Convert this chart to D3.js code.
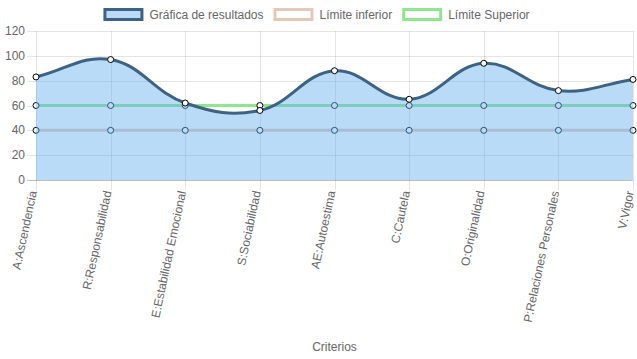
<!DOCTYPE html>
<html>
<head>
<meta charset="utf-8">
<script src="https://cdn.jsdelivr.net/npm/d3@7"></script>
<style>
html,body{margin:0;padding:0;background:#fff;}
svg{display:block;font-family:"Liberation Sans",Arial,Helvetica,sans-serif;}
</style>
</head>
<body>
<svg id="chart" width="637" height="359"></svg>
<script>
const categories = ["A:Ascendencia","R:Responsabilidad","E:Estabilidad Emocional","S:Sociabilidad","AE:Autoestima","C:Cautela","O:Originalidad","P:Relaciones Personales","V:Vigor"];
const resultados = [83, 97, 62, 56, 88, 65, 94, 72, 81];
const limiteInferior = [40, 40, 40, 40, 40, 40, 40, 40, 40];
const limiteSuperior = [60, 60, 60, 60, 60, 60, 60, 60, 60];
const yTicks = [0, 20, 40, 60, 80, 100, 120];
const seriesNames = ["Gráfica de resultados", "Límite inferior", "Límite Superior"];
const xTitle = "Criterios";

const W = 637, H = 359;
const area = {left: 36, right: 633, top: 31, bottom: 180};
const svg = d3.select("#chart");

const x = d3.scalePoint().domain(categories).range([area.left, area.right]);
const y = d3.scaleLinear().domain([0, 120]).range([area.bottom, area.top]);

const textColor = "#666";
const gridColor = "rgba(0,0,0,0.1)";

// horizontal grid
const gy = svg.append("g");
yTicks.forEach(t => {
  gy.append("line").attr("x1", area.left - 9).attr("x2", area.right)
    .attr("y1", Math.round(y(t)) + 0.5).attr("y2", Math.round(y(t)) + 0.5)
    .attr("stroke", t === 0 ? "rgba(0,0,0,0.25)" : gridColor).attr("stroke-width", 1);
  gy.append("text").attr("x", area.left - 11).attr("y", y(t))
    .attr("text-anchor", "end").attr("dominant-baseline", "central")
    .attr("font-size", 12).attr("fill", textColor).text(t);
});
// vertical grid
const gx = svg.append("g");
categories.forEach(c => {
  const px = Math.round(x(c)) + 0.5;
  gx.append("line").attr("x1", px).attr("x2", px)
    .attr("y1", area.top).attr("y2", area.bottom + 10)
    .attr("stroke", gridColor).attr("stroke-width", 1);
  gx.append("text")
    .attr("transform", `translate(${x(c) - 3},${area.bottom + 11}) rotate(-78)`)
    .attr("text-anchor", "end").attr("dominant-baseline", "central")
    .attr("font-size", 12).attr("fill", textColor).text(c);
});

// Chart.js style spline
function splinePath(vals, closeToZero) {
  const pts = vals.map((v, i) => ({x: x(categories[i]), y: y(v)}));
  const t = 0.4;
  pts.forEach((p, i) => {
    const prev = pts[i - 1] || p, next = pts[i + 1] || p;
    const d01 = Math.hypot(p.x - prev.x, p.y - prev.y);
    const d12 = Math.hypot(next.x - p.x, next.y - p.y);
    let s01 = d01 / (d01 + d12), s12 = d12 / (d01 + d12);
    if (isNaN(s01)) s01 = 0; if (isNaN(s12)) s12 = 0;
    const fa = t * s01, fb = t * s12;
    p.cp1x = p.x - fa * (next.x - prev.x);
    p.cp1y = p.y - fa * (next.y - prev.y);
    p.cp2x = p.x + fb * (next.x - prev.x);
    p.cp2y = p.y + fb * (next.y - prev.y);
    const cap = (v, a, b) => Math.max(a, Math.min(b, v));
    p.cp1x = cap(p.cp1x, area.left, area.right); p.cp2x = cap(p.cp2x, area.left, area.right);
    p.cp1y = cap(p.cp1y, area.top, area.bottom); p.cp2y = cap(p.cp2y, area.top, area.bottom);
  });
  const path = d3.path();
  path.moveTo(pts[0].x, pts[0].y);
  for (let i = 1; i < pts.length; i++) {
    const a = pts[i - 1], b = pts[i];
    path.bezierCurveTo(a.cp2x, a.cp2y, b.cp1x, b.cp1y, b.x, b.y);
  }
  if (closeToZero) {
    path.lineTo(pts[pts.length - 1].x, y(0));
    path.lineTo(pts[0].x, y(0));
    path.closePath();
  }
  return {d: path.toString(), pts};
}

function drawPoints(vals) {
  svg.append("g").selectAll("circle").data(vals).join("circle")
    .attr("cx", (d, i) => x(categories[i])).attr("cy", d => y(d)).attr("r", 3)
    .attr("fill", "#fff").attr("stroke", "#000").attr("stroke-width", 1);
}

const supColor = "rgb(144,230,144)";
const infColor = "rgb(230,200,185)";
const resStroke = "rgb(62,98,130)";
const resFill = "rgba(100,175,240,0.45)";

// Límite Superior (drawn first, bottom)
svg.append("path").attr("d", splinePath(limiteSuperior).d).attr("fill", "none")
  .attr("stroke", supColor).attr("stroke-width", 3);
drawPoints(limiteSuperior);
// Límite inferior
svg.append("path").attr("d", splinePath(limiteInferior).d).attr("fill", "none")
  .attr("stroke", infColor).attr("stroke-width", 3);
drawPoints(limiteInferior);
// Resultados
svg.append("path").attr("d", splinePath(resultados, true).d).attr("fill", resFill).attr("stroke", "none");
svg.append("path").attr("d", splinePath(resultados).d).attr("fill", "none")
  .attr("stroke", resStroke).attr("stroke-width", 3);
drawPoints(resultados);

// x title
svg.append("text").attr("x", (area.left + area.right) / 2).attr("y", 347)
  .attr("text-anchor", "middle").attr("dominant-baseline", "central")
  .attr("font-size", 12).attr("fill", textColor).text(xTitle);

// legend
const legendStyles = [
  {fill: resFill, stroke: resStroke},
  {fill: "#fff", stroke: infColor},
  {fill: "#fff", stroke: supColor}
];
const lg = svg.append("g");
const items = [];
let total = 0;
seriesNames.forEach((name, i) => {
  const t = lg.append("text").attr("font-size", 12).attr("fill", textColor)
    .attr("dominant-baseline", "central").text(name);
  const w = t.node().getComputedTextLength();
  items.push({t, w});
  total += 40 + 6 + w + (i < seriesNames.length - 1 ? 10 : 0);
});
let lx = (W - total) / 2 - 2;
items.forEach((it, i) => {
  lg.append("rect").attr("x", lx + 1.5).attr("y", 9.5).attr("width", 37).attr("height", 10)
    .attr("fill", legendStyles[i].fill).attr("stroke", legendStyles[i].stroke).attr("stroke-width", 3);
  it.t.attr("x", lx + 46).attr("y", 15);
  lx += 40 + 6 + it.w + 10;
});
</script>
</body>
</html>
